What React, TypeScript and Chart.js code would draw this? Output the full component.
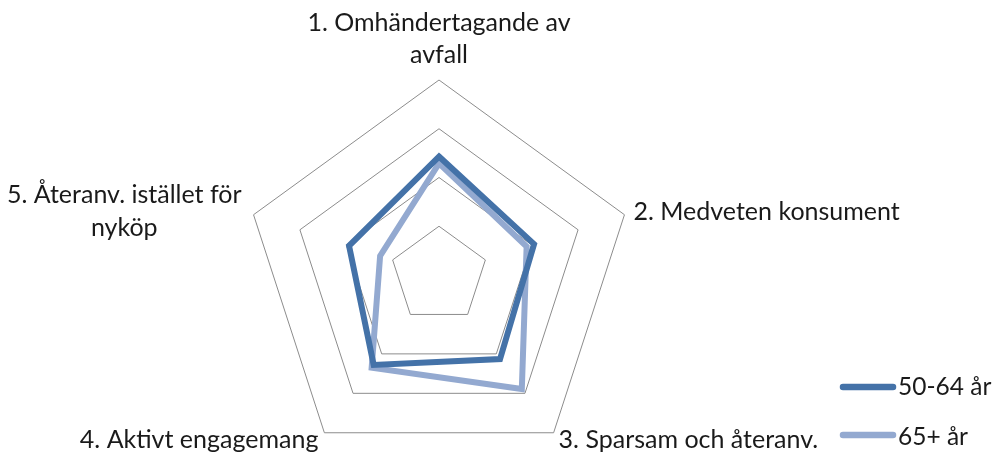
import { useEffect, useRef } from "react";
import { Chart, registerables } from "chart.js";

Chart.register(...registerables);

// ---- data ----
const categoryLines: string[][] = [
  ["1. Omhändertagande av", "avfall"],
  ["2. Medveten konsument"],
  ["3. Sparsam och återanv."],
  ["4. Aktivt engagemang"],
  ["5. Återanv. istället för", "nyköp"],
];
const seriesNames = ["50-64 år", "65+ år"];
const values5064 = [2.43, 2.05, 2.13, 2.28, 1.94];
const values65plus = [2.29, 1.89, 2.89, 2.35, 1.27];
const seriesColors = ["#4472A8", "#93A9D0"];
const scaleMin = 0;
const scaleMax = 4;
const scaleStep = 1;

const FONT = "Lato, 'Noto Sans', sans-serif";
const FONT_SIZE = 25;
const LEGEND_FONT_SIZE = 24.5;
const LINE_H = 32.5;
const CAP_H = 18;
const TEXT_COLOR = "#1a1a1a";

const pointLabelPlugin = {
  id: "excelPointLabels",
  afterDraw(chart: any) {
    const scale = chart.scales.r;
    const ctx = chart.ctx;
    ctx.save();
    ctx.font = `${FONT_SIZE}px ${FONT}`;
    ctx.fillStyle = TEXT_COLOR;
    ctx.textBaseline = "alphabetic";
    const cx = scale.xCenter;
    const cy = scale.yCenter;
    categoryLines.forEach((lines, i) => {
      const p = scale.getPointPosition(i, scale.drawingArea);
      const dx = p.x - cx;
      const dy = p.y - cy;
      const widths = lines.map((l) => ctx.measureText(l).width);
      const blockW = Math.max(...widths);
      const n = lines.length;
      let centerX: number;
      let firstBaseline: number;
      if (Math.abs(dx) < 2) {
        centerX = p.x;
        firstBaseline = p.y - 17 - (n - 1) * LINE_H;
      } else if (dy < 0) {
        centerX = dx > 0 ? p.x + 9 + blockW / 2 : p.x - 12 - blockW / 2;
        const midY = p.y - 4;
        firstBaseline = midY - ((n - 1) * LINE_H) / 2 + CAP_H / 2;
      } else {
        centerX = dx > 0 ? p.x + 5 + blockW / 2 : p.x - 6 - blockW / 2;
        firstBaseline = p.y + 15.5;
      }
      ctx.textAlign = "center";
      lines.forEach((l, k) => {
        ctx.fillText(l, centerX, firstBaseline + k * LINE_H);
      });
    });
    ctx.restore();
  },
};

const legendPlugin = {
  id: "excelLegend",
  afterDraw(chart: any) {
    const ctx = chart.ctx;
    const W = chart.width;
    ctx.save();
    ctx.font = `${LEGEND_FONT_SIZE}px ${FONT}`;
    ctx.textBaseline = "middle";
    ctx.textAlign = "left";
    const x0 = W - 152;
    const rows = [387, 435];
    chart.data.datasets.forEach((ds: any, i: number) => {
      const y = rows[i];
      ctx.strokeStyle = ds.borderColor;
      ctx.lineWidth = 6.5;
      ctx.lineCap = "round";
      ctx.beginPath();
      ctx.moveTo(x0 + 3, y);
      ctx.lineTo(x0 + 53, y);
      ctx.stroke();
      ctx.fillStyle = TEXT_COLOR;
      ctx.fillText(ds.label, x0 + 58, y + (i === 0 ? 0.5 : 2.5));
    });
    ctx.restore();
  },
};

export default function App() {
  const ref = useRef<HTMLCanvasElement | null>(null);
  useEffect(() => {
    if (!ref.current) return;
    const chart = new Chart(ref.current, {
      type: "radar",
      data: {
        labels: categoryLines.map((l) => l.join(" ")),
        datasets: [
          {
            label: seriesNames[0],
            data: values5064,
            borderColor: seriesColors[0],
            backgroundColor: seriesColors[0],
            borderWidth: 6,
            pointRadius: 0,
            fill: false,
          },
          {
            label: seriesNames[1],
            data: values65plus,
            borderColor: seriesColors[1],
            backgroundColor: seriesColors[1],
            borderWidth: 6,
            pointRadius: 0,
            fill: false,
          },
        ],
      },
      options: {
        responsive: false,
        animation: false,
        layout: { padding: { left: 244, right: 358, top: 80, bottom: 0 } },
        plugins: {
          legend: { display: false },
          tooltip: { enabled: false },
        },
        scales: {
          r: {
            min: scaleMin,
            max: scaleMax,
            ticks: { display: false, stepSize: scaleStep },
            grid: { color: "#8c8c8c", lineWidth: 1 },
            angleLines: { display: false },
            pointLabels: { display: false },
          },
        },
      },
      plugins: [pointLabelPlugin, legendPlugin],
    });
    return () => chart.destroy();
  }, []);
  return (
    <div style={{ position: "fixed", left: 0, top: 0, width: 992, height: 456, background: "#fff", overflow: "hidden" }}>
      <canvas ref={ref} width={992} height={470} style={{ display: "block" }} />
    </div>
  );
}
